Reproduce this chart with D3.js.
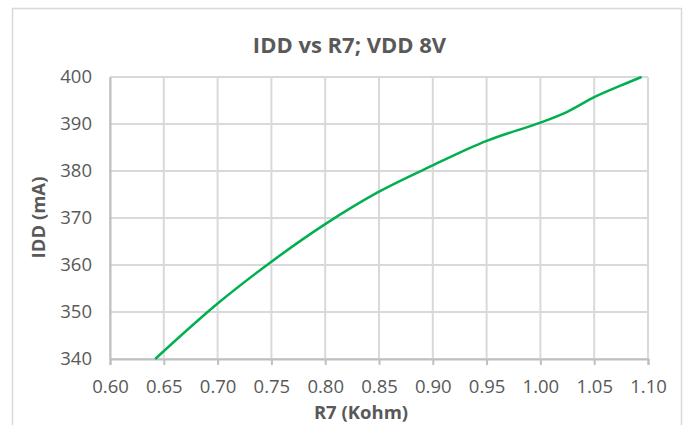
<!DOCTYPE html>
<html><head><meta charset="utf-8">
<script src="https://cdn.jsdelivr.net/npm/d3@7"></script>
<style>body{margin:0;background:#fff}svg{display:block}</style>
</head><body>
<script>
const title = "IDD vs R7; VDD 8V";
const xLabel = "R7 (Kohm)";
const yLabel = "IDD (mA)";
const r7 = [0.642, 0.70, 0.75, 0.80, 0.85, 0.90, 0.95, 1.00, 1.025, 1.05, 1.075, 1.094];
const idd = [340, 351.8, 360.7, 368.7, 375.6, 381.2, 386.4, 390.3, 392.6, 395.7, 398.2, 400];
const xTicks = [0.60,0.65,0.70,0.75,0.80,0.85,0.90,0.95,1.00,1.05,1.10];
const yTicks = [340,350,360,370,380,390,400];

const W = 684, H = 425;
const svg = d3.select("body").append("svg").attr("width", W).attr("height", H);
svg.append("rect").attr("x",12.5).attr("y",8.5).attr("width",669).attr("height",H+10)
  .attr("fill","#fff").attr("stroke","#d9d9d9").attr("stroke-width",1.5);

const x = d3.scaleLinear().domain([0.60,1.10]).range([110,648]);
const y = d3.scaleLinear().domain([340,400]).range([359,77]);
const font = "'Open Sans', sans-serif";

// grid
svg.append("g").selectAll("line").data(yTicks).join("line")
  .attr("x1",x(0.60)).attr("x2",x(1.10)).attr("y1",d=>y(d)).attr("y2",d=>y(d))
  .attr("stroke","#d9d9d9").attr("stroke-width",2);
svg.append("g").selectAll("line").data(xTicks).join("line")
  .attr("x1",d=>x(d)).attr("x2",d=>x(d)).attr("y1",y(400)).attr("y2",y(340))
  .attr("stroke","#d9d9d9").attr("stroke-width",2);

// axes
const xAxis = d3.axisBottom(x).tickValues(xTicks).tickFormat(d3.format(".2f")).tickSize(6).tickPadding(6);
const gx = svg.append("g").attr("transform",`translate(0,${y(340)})`).call(xAxis);
gx.select(".domain").attr("stroke","#bfbfbf").attr("stroke-width",2);
gx.selectAll(".tick line").attr("stroke","#bfbfbf").attr("stroke-width",2);
gx.selectAll("text").attr("fill","#595959").attr("dy",null).attr("y",null)
  .attr("transform","translate(0,34)").style("font-family",font).style("font-size","18.5px");

const yAxis = d3.axisLeft(y).tickValues(yTicks).tickSize(0).tickPadding(18);
const gy = svg.append("g").attr("transform",`translate(${x(0.60)},0)`).call(yAxis);
gy.select(".domain").attr("stroke","#bfbfbf").attr("stroke-width",2);
gy.selectAll("text").attr("fill","#595959").style("font-family",font).style("font-size","18.5px");

// line
const pts = r7.map((v,i)=>[v, idd[i]]);
svg.append("path").datum(pts)
  .attr("d", d3.line().x(d=>x(d[0])).y(d=>y(d[1])).curve(d3.curveCatmullRom.alpha(0.5)))
  .attr("fill","none").attr("stroke","#00b050").attr("stroke-width",2.5);

// titles
svg.append("text").attr("x",349.5).attr("y",52.5).attr("text-anchor","middle")
  .attr("fill","#595959").style("font-family",font).style("font-size","22px").style("font-weight","bold").text(title);
svg.append("text").attr("x",361).attr("y",419).attr("text-anchor","middle")
  .attr("fill","#595959").style("font-family",font).style("font-size","18.5px").style("font-weight","bold").text(xLabel);
svg.append("text").attr("transform","translate(45,217.5) rotate(-90)").attr("text-anchor","middle")
  .attr("fill","#595959").style("font-family",font).style("font-size","18.5px").style("font-weight","bold").text(yLabel);
</script>
</body></html>
